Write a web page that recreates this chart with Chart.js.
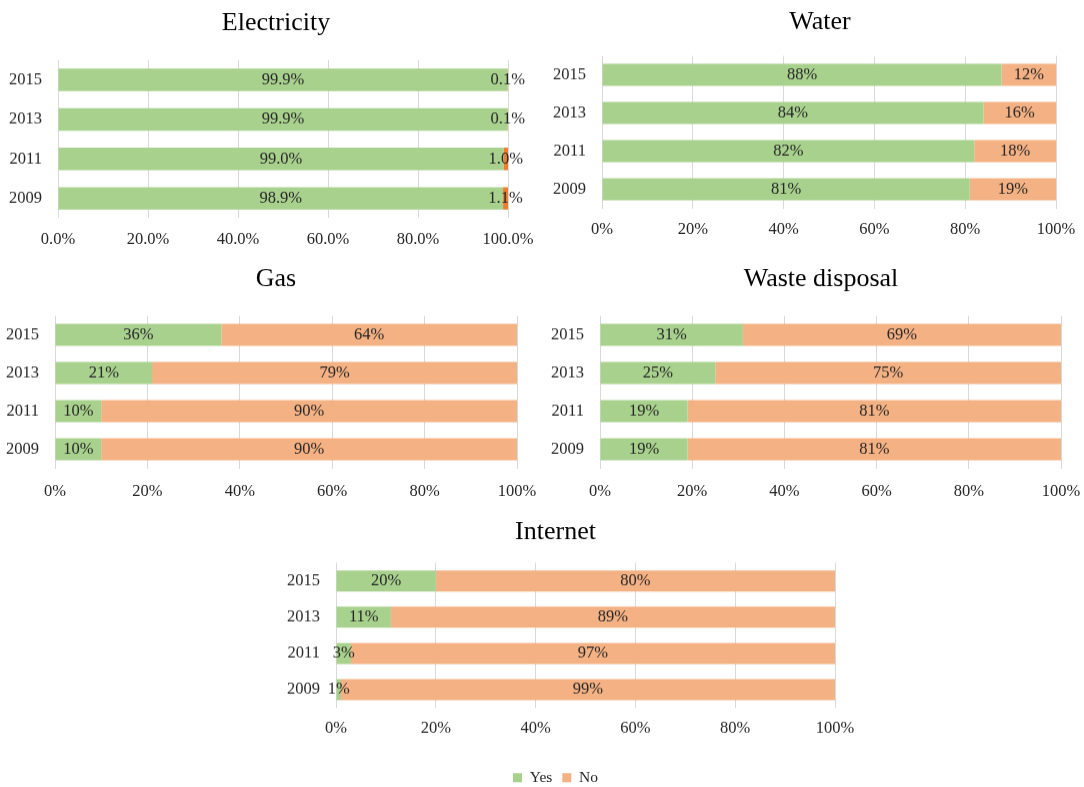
<!DOCTYPE html>
<html><head><meta charset="utf-8">
<script src="https://cdn.jsdelivr.net/npm/chart.js@4.4.1/dist/chart.umd.min.js"></script>
<style>
html,body{margin:0;padding:0;background:#fff;width:1084px;height:787px;overflow:hidden;position:relative}
.box{position:absolute}
</style></head><body>
<div class="box" id="b-elec"><canvas id="c-elec"></canvas></div>
<div class="box" id="b-water"><canvas id="c-water"></canvas></div>
<div class="box" id="b-gas"><canvas id="c-gas"></canvas></div>
<div class="box" id="b-waste"><canvas id="c-waste"></canvas></div>
<div class="box" id="b-net"><canvas id="c-net"></canvas></div>
<script>
// ---- data ----
const years = ['2015', '2013', '2011', '2009'];
const elecYes = [99.9, 99.9, 99.0, 98.9];
const elecNo = [0.1, 0.1, 1.0, 1.1];
const waterYes = [88, 84, 82, 81];
const waterNo = [12, 16, 18, 19];
const gasYes = [36, 21, 10, 10];
const gasNo = [64, 79, 90, 90];
const wasteYes = [31, 25, 19, 19];
const wasteNo = [69, 75, 81, 81];
const netYes = [20, 11, 3, 1];
const netNo = [80, 89, 97, 99];
const xTicks = [0, 20, 40, 60, 80, 100];
const seriesNames = ['Yes', 'No'];

// ---- style ----
const FONT = '"Liberation Serif", "Times New Roman", serif';
const GREEN = '#A9D18E', ORANGE = '#F4B183', DARK_ORANGE = '#ED7D31';
const TEXT = '#262626', GRID = '#D9D9D9';

const barLabels = {
  id: 'barLabels',
  afterDatasetsDraw(chart, args, opts) {
    const ctx = chart.ctx;
    ctx.save();
    ctx.font = opts.size + 'px ' + FONT;
    ctx.fillStyle = TEXT;
    ctx.textAlign = 'center';
    ctx.textBaseline = 'middle';
    chart.data.datasets.forEach((ds, i) => {
      const meta = chart.getDatasetMeta(i);
      meta.data.forEach((el, j) => {
        const p = el.getProps(['x', 'y', 'base'], true);
        ctx.fillText(ds.data[j].toFixed(opts.decimals) + '%', (p.x + p.base) / 2, p.y);
      });
    });
    ctx.restore();
  }
};

function makeChart(key, title, yes, no, noColor, L) {
  const box = document.getElementById('b-' + key);
  box.style.left = L.left + 'px';
  box.style.top = L.top + 'px';
  box.style.width = L.width + 'px';
  box.style.height = L.height + 'px';
  new Chart(document.getElementById('c-' + key), {
    type: 'bar',
    data: {
      labels: years,
      datasets: [
        { label: seriesNames[0], data: yes, backgroundColor: GREEN, borderWidth: 0 },
        { label: seriesNames[1], data: no, backgroundColor: noColor, borderWidth: 0 }
      ]
    },
    options: {
      indexAxis: 'y',
      responsive: true,
      maintainAspectRatio: false,
      animation: false,
      events: [],
      layout: { padding: { left: L.padL, right: L.padR, top: 0, bottom: 0 } },
      datasets: { bar: { categoryPercentage: 1, barPercentage: L.barPct } },
      scales: {
        x: {
          stacked: true, min: 0, max: 100,
          afterBuildTicks: s => { s.ticks = xTicks.map(v => ({ value: v })); },
          afterFit: s => { s.height = L.xH; },
          grid: { color: GRID, lineWidth: 1, drawTicks: false },
          border: { display: false },
          ticks: {
            padding: L.tickPad, color: TEXT, font: { family: FONT, size: 16.5 },
            maxRotation: 0,
            callback: v => Number(v).toFixed(L.decimals) + '%'
          }
        },
        y: {
          stacked: true,
          afterFit: s => { s.width = L.yW; s._computeLabelArea = () => undefined; },
          grid: { display: false, drawTicks: false },
          border: { display: false },
          ticks: { padding: 16, color: TEXT, font: { family: FONT, size: 16.5 } }
        }
      },
      plugins: {
        title: {
          display: true, text: title, color: '#000',
          font: { family: FONT, size: 26, weight: 'normal' },
          padding: { top: 4, bottom: L.titleBottom }
        },
        legend: {
          display: !!L.legend, position: 'bottom',
          labels: { boxWidth: 9, boxHeight: 9, padding: 10, color: TEXT, font: { family: FONT, size: 15.5 } }
        },
        tooltip: { enabled: false },
        barLabels: { size: 16.5, decimals: L.decimals }
      }
    },
    plugins: [barLabels]
  });
}

makeChart('elec', 'Electricity', elecYes, elecNo, DARK_ORANGE,
  { left: 0, top: 4.4, width: 548, height: 253.3, padL: 44, yW: 14, padR: 40, titleBottom: 20.7, tickPad: 11.4, xH: 40, barPct: 0.57, decimals: 1 });
makeChart('water', 'Water', waterYes, waterNo, ORANGE,
  { left: 542, top: 3.4, width: 554, height: 244.6, padL: 42, yW: 18, padR: 40, titleBottom: 17.4, tickPad: 11.1, xH: 40, barPct: 0.58, decimals: 0 });
makeChart('gas', 'Gas', gasYes, gasNo, ORANGE,
  { left: 0, top: 260.4, width: 557, height: 247.6, padL: 35, yW: 20, padR: 40, titleBottom: 20.4, tickPad: 13.1, xH: 40, barPct: 0.58, decimals: 0 });
makeChart('waste', 'Waste disposal', wasteYes, wasteNo, ORANGE,
  { left: 540, top: 260.4, width: 561, height: 247.6, padL: 41, yW: 19, padR: 40, titleBottom: 20.4, tickPad: 13.1, xH: 40, barPct: 0.58, decimals: 0 });
makeChart('net', 'Internet', netYes, netNo, ORANGE,
  { left: 276, top: 513.4, width: 599, height: 281.6, padL: 0, yW: 60, padR: 40, titleBottom: 14.4, tickPad: 11.1, xH: 52, barPct: 0.58, decimals: 0, legend: true });
</script>
</body></html>
